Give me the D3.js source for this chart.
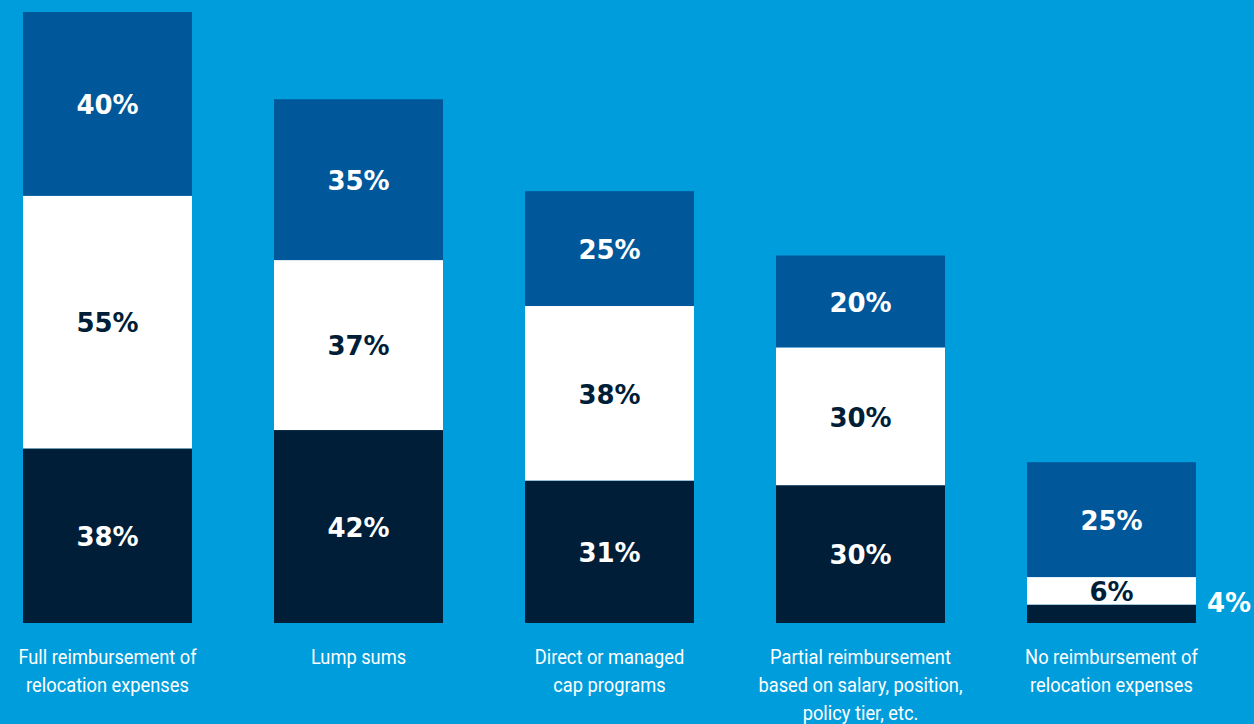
<!DOCTYPE html>
<html>
<head>
<meta charset="utf-8">
<script src="https://cdn.jsdelivr.net/npm/d3@7"></script>
<style>
  html, body { margin: 0; padding: 0; background: #009ddc; }
  svg { display: block; }
</style>
</head>
<body>
<div id="chart"></div>
<script>
// categories, split into label lines
const categories = [
  ['Full reimbursement of', 'relocation expenses'],
  ['Lump sums'],
  ['Direct or managed', 'cap programs'],
  ['Partial reimbursement', 'based on salary, position,', 'policy tier, etc.'],
  ['No reimbursement of', 'relocation expenses']
];
// stacked series, bottom to top
const bottomValues = [38, 42, 31, 30, 4];
const middleValues = [55, 37, 38, 30, 6];
const topValues = [40, 35, 25, 20, 25];

const width = 1254;
const height = 724;
const baseY = 623;
const topY = 12;

const colors = { bottom: '#001e38', middle: '#ffffff', top: '#00579a' };
const labelColors = { bottom: '#ffffff', middle: '#001e38', top: '#ffffff' };

const rows = categories.map((c, i) => ({
  key: i,
  bottom: bottomValues[i],
  middle: middleValues[i],
  top: topValues[i]
}));

const keys = ['bottom', 'middle', 'top'];
const series = d3.stack().keys(keys)(rows);

const svg = d3.select('#chart').append('svg')
  .attr('width', width)
  .attr('height', height);

svg.append('rect').attr('width', width).attr('height', height).attr('fill', '#009ddc');

const x = d3.scaleBand()
  .domain(rows.map(d => d.key))
  .range([23, 1196])
  .paddingInner(82 / 251)
  .paddingOuter(0);

const maxTotal = d3.max(rows, d => d.bottom + d.middle + d.top);
const y = d3.scaleLinear().domain([0, maxTotal]).range([baseY, topY]);

const layers = svg.selectAll('.layer')
  .data(series)
  .enter()
  .append('g')
  .attr('class', 'layer')
  .attr('fill', d => colors[d.key]);

layers.selectAll('rect')
  .data(d => d)
  .enter()
  .append('rect')
  .attr('x', d => x(d.data.key))
  .attr('width', x.bandwidth())
  .attr('y', d => y(d[1]))
  .attr('height', d => y(d[0]) - y(d[1]));

// value labels; segments too thin get their label outside, to the right
const tooThin = d => y(d[0]) - y(d[1]) < 24;

series.forEach(s => {
  svg.append('g').selectAll('text')
    .data(s)
    .enter()
    .append('text')
    .attr('x', d => tooThin(d) ? x(d.data.key) + x.bandwidth() + 11 : x(d.data.key) + x.bandwidth() / 2)
    .attr('y', d => tooThin(d) ? (y(d[0]) + y(d[1])) / 2 - 11 : (y(d[0]) + y(d[1])) / 2 + 1)
    .attr('dy', '0.36em')
    .attr('text-anchor', d => tooThin(d) ? 'start' : 'middle')
    .style('font-family', '"DejaVu Sans", Lato, sans-serif')
    .style('font-weight', 700)
    .style('font-size', '26px')
    .style('fill', d => tooThin(d) ? '#ffffff' : labelColors[s.key])
    .text(d => (d[1] - d[0]) + '%');
});

// category labels
const cat = svg.append('g').selectAll('text')
  .data(categories)
  .enter()
  .append('text')
  .attr('transform', (d, i) => `translate(${x(i) + x.bandwidth() / 2},0) scale(0.87,1)`)
  .attr('text-anchor', 'middle')
  .style('font-family', 'Roboto, "Liberation Sans", sans-serif')
  .style('font-size', '21px')
  .style('fill', '#ffffff');

cat.selectAll('tspan')
  .data(d => d)
  .enter()
  .append('tspan')
  .attr('x', 0)
  .attr('y', (d, i) => 664 + i * 28)
  .text(d => d);
</script>
</body>
</html>
